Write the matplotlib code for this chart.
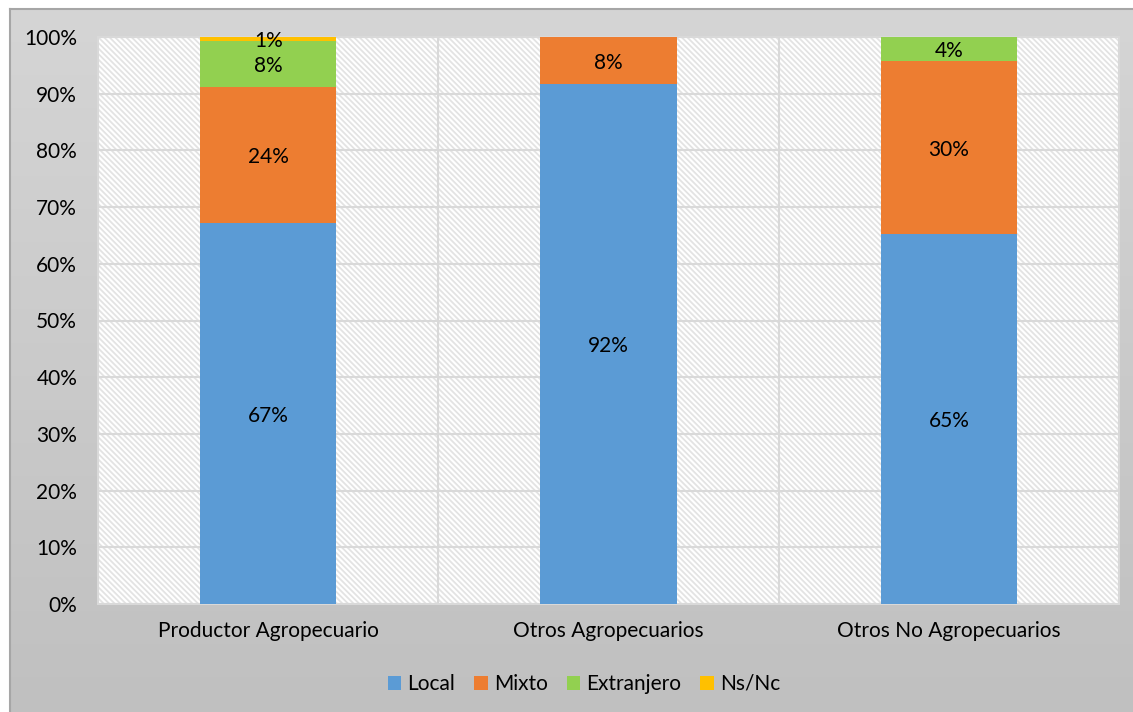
import numpy as np
import matplotlib.pyplot as plt
from matplotlib.patches import Rectangle

plt.rcParams['font.family'] = ['Lato', 'DejaVu Sans']
plt.rcParams['hatch.linewidth'] = 1.3

# Data (percent of each group)
categories = ['Productor Agropecuario', 'Otros Agropecuarios', 'Otros No Agropecuarios']
series_names = ['Local', 'Mixto', 'Extranjero', 'Ns/Nc']
local = [67.2, 91.7, 65.3]
mixto = [24.0, 8.3, 30.5]
extranjero = [8.1, 0.0, 4.2]
nsnc = [0.7, 0.0, 0.0]
colors = ['#5B9BD5', '#ED7D31', '#92D050', '#FFC000']

W, H = 1133, 712
fig = plt.figure(figsize=(W / 100, H / 100), dpi=100, facecolor='white')

# chart background with a soft vertical gradient
bg = fig.add_axes([10 / W, 0, 1 - 10 / W, 1 - 9 / H], zorder=-10)
grad = np.linspace(0, 1, 256).reshape(-1, 1)
top_c = np.array([0.835, 0.835, 0.835])
bot_c = np.array([0.753, 0.753, 0.753])
img = top_c + (bot_c - top_c) * grad[:, :, None] * np.ones((1, 1, 3))
bg.imshow(img, aspect='auto', extent=[0, 1, 0, 1], origin='upper')
bg.set_xlim(0, 1)
bg.set_ylim(0, 1)
bg.set_xticks([])
bg.set_yticks([])
for side in ['right', 'bottom']:
    bg.spines[side].set_visible(False)
for side in ['top', 'left']:
    bg.spines[side].set_color('#a6a6a6')
    bg.spines[side].set_linewidth(1.5)

ax = fig.add_axes([98 / W, (H - 604) / H, (1119 - 98) / W, (604 - 37) / H])
ax.patch.set_visible(False)
ax.add_patch(Rectangle((0, 0), 1, 1, transform=ax.transAxes, facecolor='white',
                       edgecolor='#e3e3e3', hatch='\\' * 6, lw=0, zorder=-2))

x = np.arange(len(categories))
series = [local, mixto, extranjero, nsnc]
bottom = np.zeros(len(categories))
for name, vals, col in zip(series_names, series, colors):
    vals = np.array(vals)
    ax.bar(x, vals, 0.4, bottom=bottom, color=col, label=name, zorder=3)
    for xi, v, b in zip(x, vals, bottom):
        if v > 0:
            ax.text(xi, b + v / 2 - 0.4, f'{round(v)}%', ha='center', va='center',
                    fontsize=15, color='black', zorder=4)
    bottom += vals

ax.set_xlim(-0.5, 2.5)
ax.set_ylim(0, 100)
ax.set_yticks(np.arange(0, 101, 10))
ax.set_yticklabels([f'{v}%' for v in range(0, 101, 10)])
ax.set_xticks(x)
ax.set_xticklabels(categories)
ax.tick_params(length=0, labelsize=15, labelcolor='black')
ax.tick_params(axis='y', pad=15)
ax.tick_params(axis='x', pad=12)
ax.yaxis.grid(True, color='#d9d9d9', lw=1.5, zorder=1)
for b in [0.5, 1.5]:
    ax.axvline(b, color='#d9d9d9', lw=1.5, zorder=1)
for s in ax.spines.values():
    s.set_color('#d9d9d9')
    s.set_linewidth(1.5)

fig.legend(loc='center', bbox_to_anchor=(584 / W, (H - 684) / H), ncol=4,
           frameon=False, fontsize=15, handlelength=0.65, handleheight=0.65,
           handletextpad=0.3, columnspacing=0.9)

fig.savefig('out.png', dpi=100)
